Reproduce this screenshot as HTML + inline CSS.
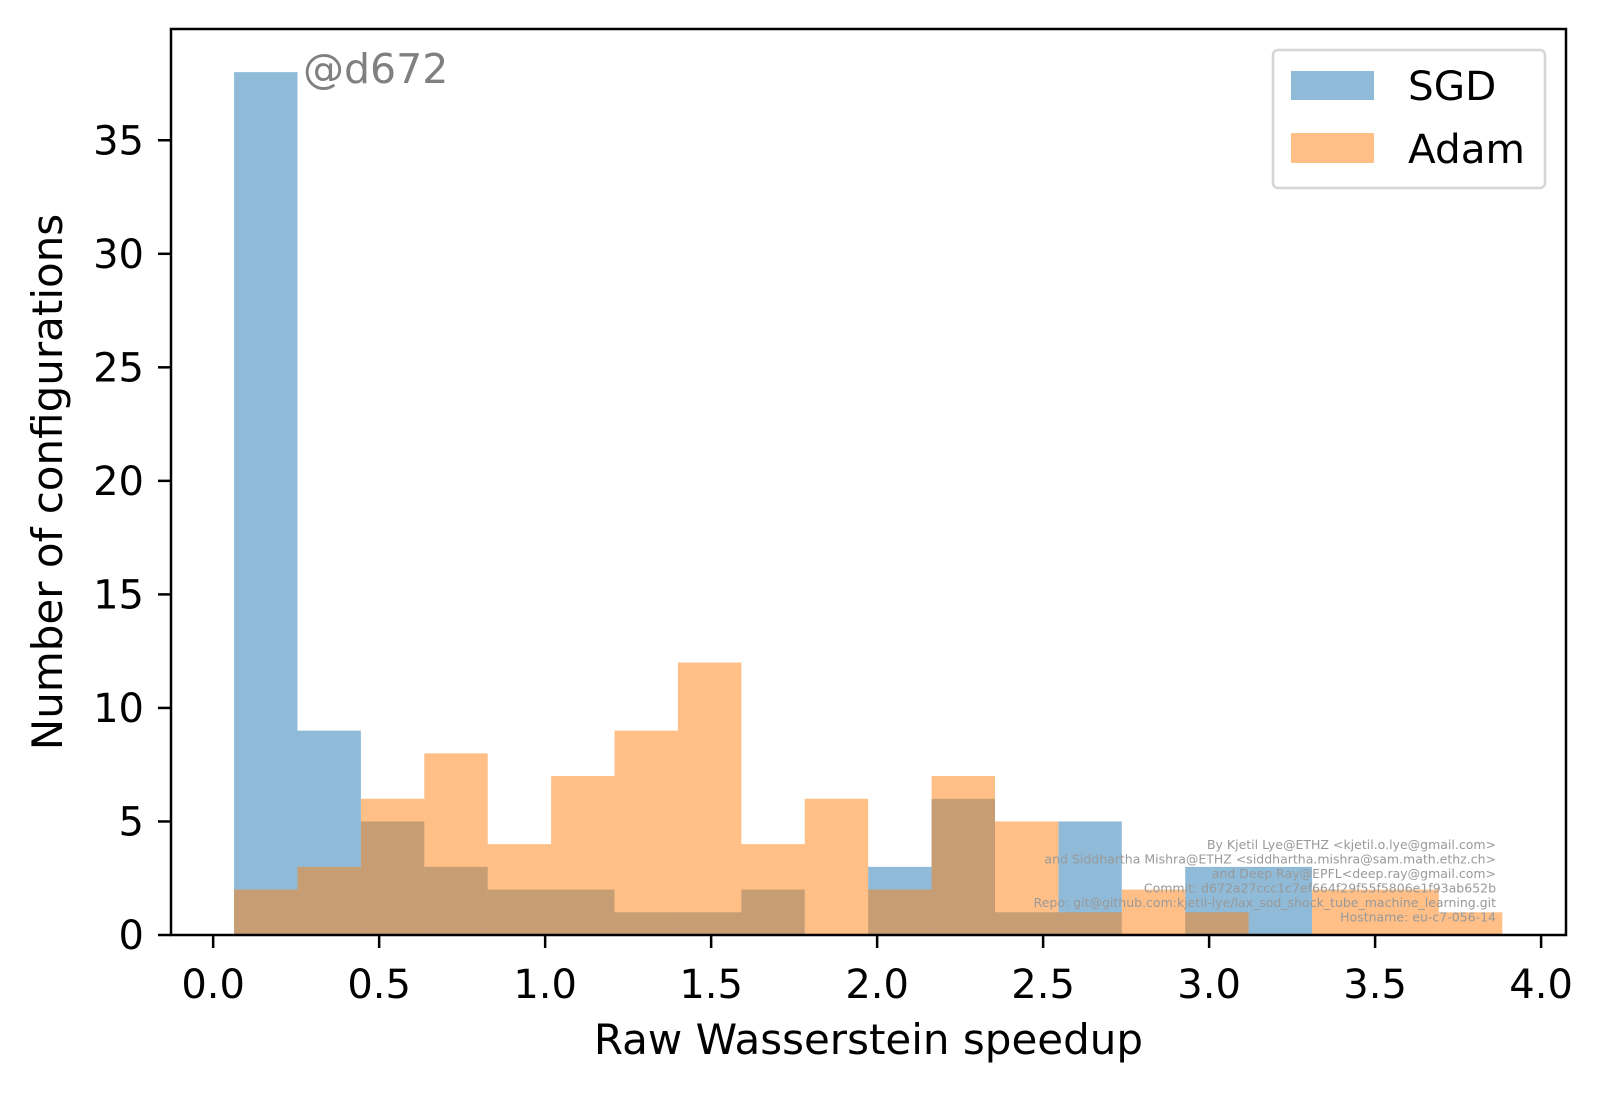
<!DOCTYPE html>
<html><head><meta charset="utf-8"><style>
body{margin:0;background:#fff}
svg text{font-family:"DejaVu Sans","Liberation Sans",sans-serif}
</style></head><body>
<svg id="chart" width="1610" height="1095" viewBox="0 0 1610 1095" xmlns="http://www.w3.org/2000/svg">
<rect width="1610" height="1095" fill="#fff"/>
<g id="bars"></g>
<g id="axes"></g>
</svg>
<script>
const binStart = 0.063;
const binWidth = 0.191;
const sgdCounts = [38,9,5,3,2,2,1,1,2,0,3,6,1,5,0,3,3,0,0,0];
const adamCounts = [2,3,6,8,4,7,9,12,4,6,2,7,5,1,2,1,0,2,2,1];
const xTicks = [0,0.5,1,1.5,2,2.5,3,3.5,4];
const xTickLabels = ["0.0","0.5","1.0","1.5","2.0","2.5","3.0","3.5","4.0"];
const yTicks = [0,5,10,15,20,25,30,35];
const credits = ["By Kjetil Lye@ETHZ <kjetil.o.lye@gmail.com>","and Siddhartha Mishra@ETHZ <siddhartha.mishra@sam.math.ethz.ch>","and Deep Ray@EPFL<deep.ray@gmail.com>","Commit: d672a27ccc1c7ef664f29f55f5806e1f93ab652b","Repo: git@github.com:kjetil-lye/lax_sod_shock_tube_machine_learning.git","Hostname: eu-c7-056-14"];

const L=171,R=1566,T=29,B=935;
const xMin=-0.127,xMax=4.075,yMin=0,yMax=39.9;
const X=v=>L+(v-xMin)/(xMax-xMin)*(R-L);
const Y=v=>B-(v-yMin)/(yMax-yMin)*(B-T);
const NS="http://www.w3.org/2000/svg";
function mk(tag,attrs,parent){const e=document.createElementNS(NS,tag);for(const k in attrs)e.setAttribute(k,attrs[k]);parent.appendChild(e);return e;}
const bars=document.getElementById('bars'),axes=document.getElementById('axes');

sgdCounts.forEach((c,i)=>{if(!c)return;
 const x0=X(binStart+i*binWidth),x1=X(binStart+(i+1)*binWidth);
 const r=mk('rect',{x:x0,y:Y(c),width:x1-x0,height:Y(0)-Y(c),fill:'#1f77b4','fill-opacity':0.5},bars);
 
 
});
adamCounts.forEach((c,i)=>{if(!c)return;
 const x0=X(binStart+i*binWidth),x1=X(binStart+(i+1)*binWidth);
 const r=mk('rect',{x:x0,y:Y(c),width:x1-x0,height:Y(0)-Y(c),fill:'#ff7f0e','fill-opacity':0.5},bars);
 
 
});

const frame=mk('rect',{x:L,y:T,width:R-L,height:B-T,fill:'none',stroke:'#000','stroke-width':2.5},axes);



xTicks.forEach((v,i)=>{
 const t=mk('line',{x1:X(v),x2:X(v),y1:B,y2:B+13,stroke:'#000','stroke-width':2.5},axes);
 
 
 const tx=mk('text',{x:X(v),y:998,'font-size':40,'text-anchor':'middle',fill:'#000'},axes);
 tx.textContent=xTickLabels[i];
 
 
});
yTicks.forEach(v=>{
 const t=mk('line',{x1:L-13,x2:L,y1:Y(v),y2:Y(v),stroke:'#000','stroke-width':2.5},axes);
 
 
 const tx=mk('text',{x:L-27,y:Y(v)+14,'font-size':40,'text-anchor':'end',fill:'#000'},axes);
 tx.textContent=String(v);
 
 
});

const xl=mk('text',{x:(L+R)/2,y:1054,'font-size':42,'text-anchor':'middle',fill:'#000'},axes);
xl.textContent='Raw Wasserstein speedup';


const yl=mk('text',{x:0,y:0,'font-size':42,'text-anchor':'middle',fill:'#000',transform:'translate(62,482) rotate(-90)'},axes);
yl.textContent='Number of configurations';



const tag=mk('text',{x:303,y:83,'font-size':41,fill:'#808080'},axes);
tag.textContent='@d672';



credits.forEach((s,i)=>{
 const c=mk('text',{x:1496,y:849+i*14.5,'font-size':12.5,'text-anchor':'end',fill:'#999'},axes);
 c.textContent=s;
 
 
});

const lg=mk('g',{},axes);


mk('rect',{x:1273,y:50,width:272,height:138,rx:5,fill:'#fff','fill-opacity':0.8,stroke:'#d6d6d6','stroke-width':2.5},lg);
const p1=mk('rect',{x:1291,y:71,width:83,height:29,fill:'#1f77b4','fill-opacity':0.5},lg);


const p2=mk('rect',{x:1291,y:133,width:83,height:30,fill:'#ff7f0e','fill-opacity':0.5},lg);


const t1=mk('text',{x:1408,y:100,'font-size':40.5,fill:'#000'},lg);
t1.textContent='SGD';


const t2=mk('text',{x:1408,y:163,'font-size':40.5,fill:'#000'},lg);
t2.textContent='Adam';


</script>
</body></html>
